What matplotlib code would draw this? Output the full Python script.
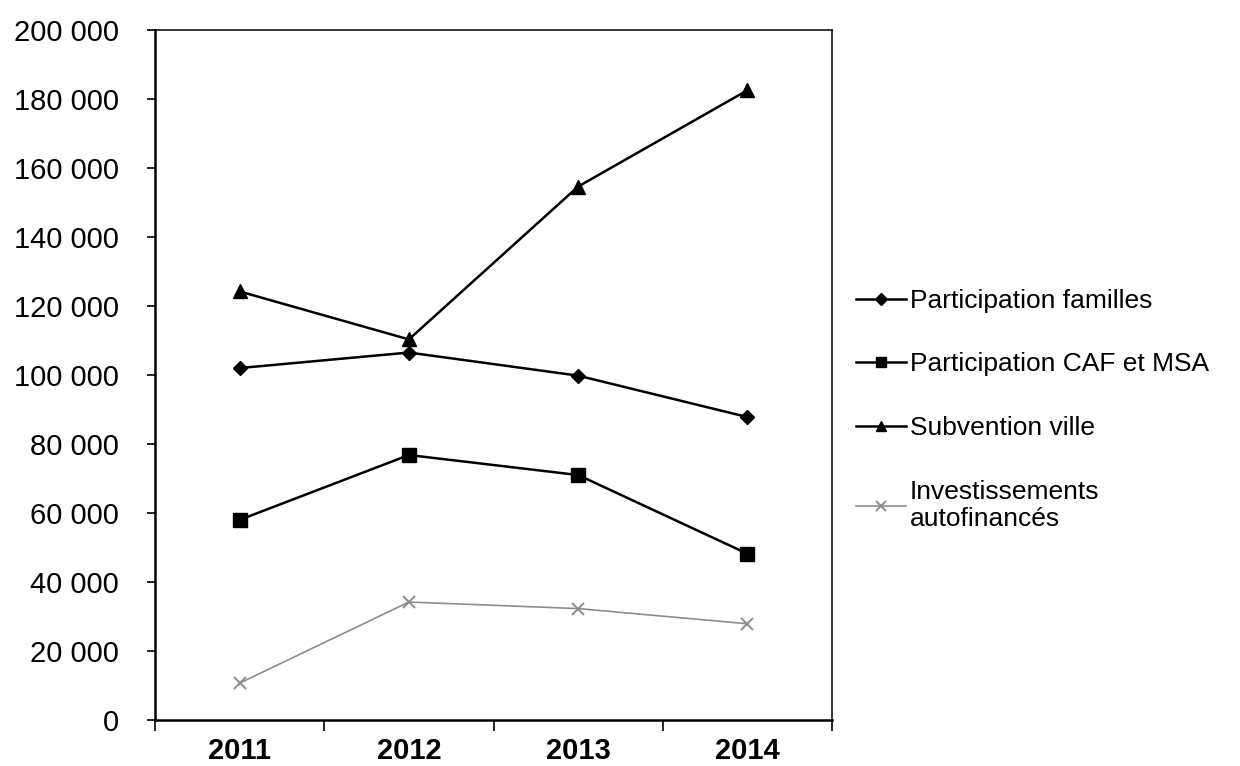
import matplotlib
matplotlib.use("Agg")
import matplotlib.pyplot as plt
from matplotlib.ticker import FuncFormatter

plt.rcParams["font.family"] = ["Liberation Sans", "DejaVu Sans"]

annees = ["2011", "2012", "2013", "2014"]
familles = [102000, 106500, 99800, 87800]
caf_msa = [58000, 76800, 71000, 48200]
subvention = [124200, 110300, 154600, 182500]
investissements = [10700, 34200, 32300, 27900]

fig = plt.figure(figsize=(12.4, 7.66), dpi=100)
ax = fig.add_axes([0.125, 0.060, 0.546, 0.901])

x = range(len(annees))
ax.plot(x, familles, color="black", lw=1.8, marker="D", ms=7.5,
        label="Participation familles")
ax.plot(x, caf_msa, color="black", lw=1.8, marker="s", ms=10,
        label="Participation CAF et MSA")
ax.plot(x, subvention, color="black", lw=1.8, marker="^", ms=10,
        label="Subvention ville")
ax.plot(x, investissements, color="#8c8c8c", lw=1.2, marker="x", ms=9, mew=1.4,
        label="Investissements\nautofinancés")

ax.set_xlim(-0.5, 3.5)
ax.set_ylim(0, 200000)
ax.set_yticks(range(0, 200001, 20000))
ax.yaxis.set_major_formatter(FuncFormatter(lambda v, p: f"{int(v):,}".replace(",", " ")))
ax.tick_params(axis="y", direction="out", length=6, width=1.2, labelsize=21, pad=20)

# ticks at category boundaries, labels at centres
ax.set_xticks([-0.5, 0.5, 1.5, 2.5, 3.5])
ax.set_xticklabels([])
ax.set_xticks(list(x), minor=True)
ax.set_xticklabels(annees, minor=True, fontsize=21, fontweight="bold")
ax.tick_params(axis="x", which="major", direction="out", length=8, width=1.2)
ax.tick_params(axis="x", which="minor", length=0, pad=12)

for s in ["left", "bottom"]:
    ax.spines[s].set_linewidth(1.8)
for s in ["top", "right"]:
    ax.spines[s].set_linewidth(1.1)

fig.legend(loc="upper left", bbox_to_anchor=(0.671, 0.654), frameon=False,
           fontsize=19, handlelength=1.9, handletextpad=0.15, labelspacing=1.5,
           markerscale=0.75)

fig.savefig("out.png", dpi=100)
